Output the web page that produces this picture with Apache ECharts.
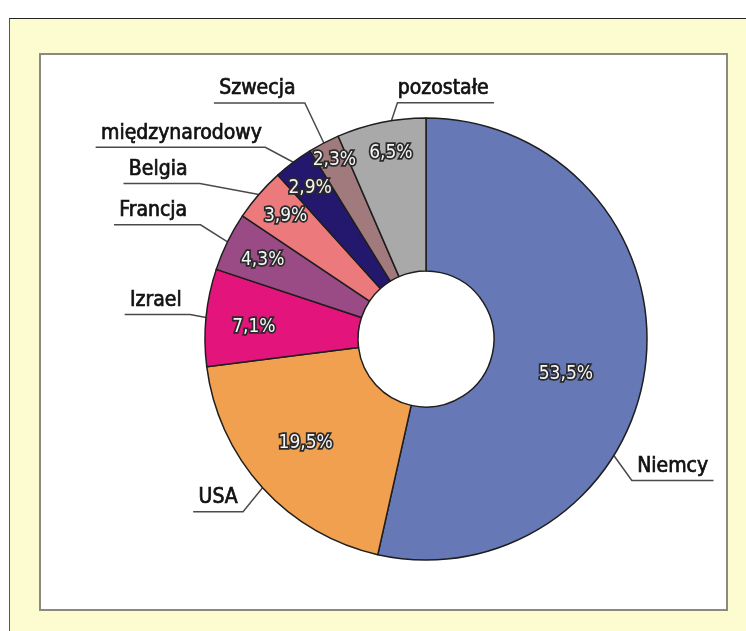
<!DOCTYPE html>
<html><head><meta charset="utf-8">
<script src="https://cdn.jsdelivr.net/npm/echarts@6/dist/echarts.min.js"></script>
<style>
html,body{margin:0;padding:0;background:#fff;}
#frame{position:absolute;left:9px;top:18px;width:737px;height:613px;background:#fdfbd0;border-top:1.5px solid #222;border-left:1.5px solid #555;box-sizing:border-box;}
#panel{position:absolute;left:39px;top:53px;width:689px;height:558px;background:#fff;border:2px solid #8c8a7e;box-sizing:border-box;}
#chart{position:absolute;left:0;top:0;width:746px;height:631px;}
</style></head><body>
<div id="frame"></div><div id="panel"></div><div id="chart"></div>
<script>
// ---- data ----
const categories = ['Niemcy','USA','Izrael','Francja','Belgia','międzynarodowy','Szwecja','pozostałe'];
const shares = [53.5, 19.5, 7.1, 4.3, 3.9, 2.9, 2.3, 6.5];

// ---- style / layout ----
const sliceColors = ['#6678b6','#f0a04e','#e3147b','#9a4a84','#ec7a7c','#24186e','#a07a7c','#a9a9a9'];
const CX = 426, CY = 339, R0 = 68, R = 221;
const FONT = "'Liberation Sans Narrow','Arial Narrow','DejaVu Sans Condensed',sans-serif";
// leader line style per category: elbow offset from anchor, side of text, gap
const leaderStyle = {
  'Niemcy':         {angle: 121.8, ex: 18,  ey: 25,  side: 1,  gap: 5},
  'USA':            {ex: -19.5, ey: 24,  side: -1, gap: 5},
  'Izrael':         {ex: -16,   ey: -3,  side: -1, gap: 8},
  'Francja':        {ex: -27,   ey: -17, side: -1, gap: 13},
  'Belgia':         {ex: -59,   ey: -11, side: -1, gap: 12},
  'międzynarodowy': {ex: -28,   ey: -15, side: -1, gap: 3},
  'Szwecja':        {ex: -19,   ey: -40, side: -1, gap: 9},
  'pozostałe':      {angle: 351, ex: 6, ey: -18, side: 1, gap: 0}
};
const pctNudge = {
  'Niemcy': [-42, 15], 'USA': [15, -19], 'Izrael': [10, 6], 'Francja': [1, 2],
  'Belgia': [-2, -3], 'międzynarodowy': [-6, -5], 'Szwecja': [-7, -17], 'pozostałe': [2, -7]
};

const total = shares.reduce((a, b) => a + b, 0);
const midAngles = [];
(function(){ let acc = 0; shares.forEach(v => { midAngles.push((acc + v / 2) / total * 360); acc += v; }); })();

const pieData = categories.map((c, i) => ({name: c, value: shares[i], itemStyle: {color: sliceColors[i]}}));
const ghostData = categories.map((c, i) => ({name: c, value: shares[i]}));

const chart = echarts.init(document.getElementById('chart'), null, {renderer: 'canvas'});
chart.setOption({
  backgroundColor: 'transparent',
  animation: false,
  series: [
    {
      type: 'pie',
      center: [CX, CY],
      radius: [R0, R],
      startAngle: 90,
      clockwise: true,
      avoidLabelOverlap: false,
      silent: true,
      itemStyle: {borderColor: '#1e1e1e', borderWidth: 1.5},
      label: {
        show: true, position: 'outside', formatter: '{b}',
        fontFamily: FONT, fontSize: 21, color: '#111',
        textBorderColor: '#111', textBorderWidth: 0.7
      },
      labelLine: {show: true, lineStyle: {color: '#4a4a4a', width: 1.5}},
      labelLayout: function (p) {
        const name = categories[p.dataIndex];
        const st = leaderStyle[name];
        const th = (st.angle != null ? st.angle : midAngles[p.dataIndex]) * Math.PI / 180;
        const ax = CX + R * Math.sin(th), ay = CY - R * Math.cos(th);
        const bx = ax + st.ex, by = ay + st.ey;
        const w = p.labelRect.width;
        const len = st.gap + w + 5;
        const tx = bx + st.side * (st.gap + w / 2);
        return {
          x: tx, y: by - 14, align: 'center', verticalAlign: 'middle',
          labelLinePoints: [[ax, ay], [bx, by], [bx + st.side * len, by]]
        };
      },
      data: pieData
    },
    {
      type: 'pie',
      center: [CX, CY],
      radius: [139, R],
      startAngle: 90,
      clockwise: true,
      silent: true,
      avoidLabelOverlap: false,
      itemStyle: {color: 'rgba(0,0,0,0)', borderWidth: 0},
      label: {
        show: true, position: 'inside',
        formatter: p => p.value.toFixed(1).replace('.', ',') + '%',
        fontFamily: FONT, fontSize: 19, color: '#f6f6f6',
        textBorderColor: '#2a2a2a', textBorderWidth: 3.5
      },
      labelLine: {show: false},
      labelLayout: function (p) {
        const n = pctNudge[categories[p.dataIndex]];
        return {dx: n[0], dy: n[1]};
      },
      data: ghostData
    }
  ]
});
</script>
</body></html>
